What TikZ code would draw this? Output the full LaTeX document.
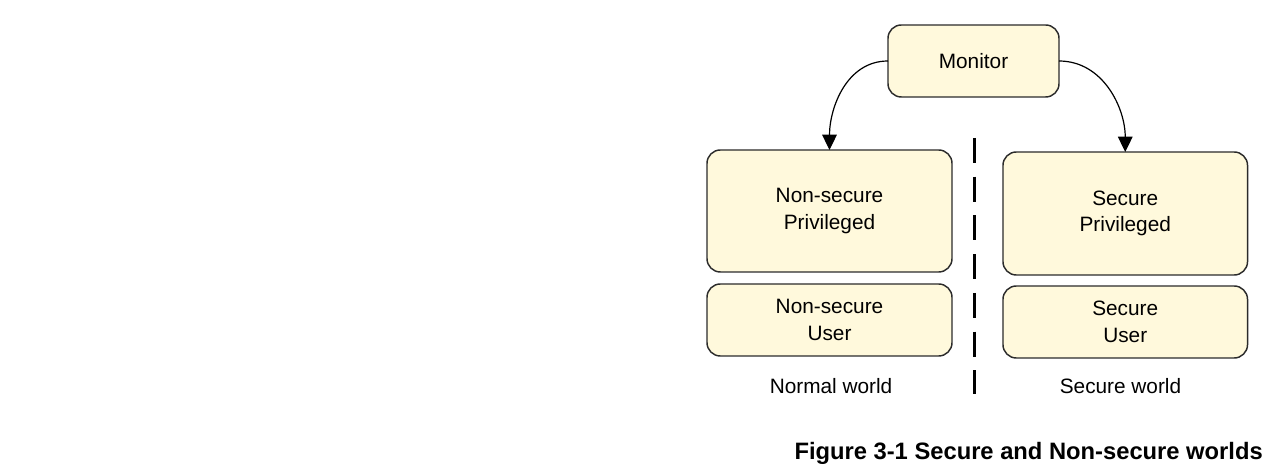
\documentclass[tikz,border=0pt]{standalone}
\usepackage{fontspec}
\setmainfont{Liberation Sans}
\usepackage{tikz}
\usetikzlibrary{arrows.meta}

\definecolor{boxfill}{HTML}{FFF9DC}
\definecolor{boxline}{HTML}{2B2B2B}

\begin{document}
\begin{tikzpicture}[x=0.75pt,y=-0.75pt,
	mode/.style={shape=rectangle,draw=boxline,fill=boxfill,line width=1.1pt,rounded corners=10pt,
		inner sep=0pt,outer sep=0pt,align=center,font=\fontsize{15.6}{19.8}\selectfont},
	world/.style={inner sep=0pt,font=\fontsize{15.6}{19.8}\selectfont},
	arr/.style={-{Triangle[width=11pt,length=11.5pt]},line width=0.9pt}]

		\useasboundingbox (0,0) rectangle (1279,473);

		\node[mode,minimum width=128.25pt,minimum height=54pt] (monitor) at (973.5, 61) {Monitor};
		\node[mode,minimum width=183.75pt,minimum height=91.5pt] (nspriv) at (829.5, 211) {Non-secure\\Privileged};
		\node[mode,minimum width=183.75pt,minimum height=54pt] (nsuser) at (829.5, 320) {Non-secure\\User};
		\node[mode,minimum width=183.4pt,minimum height=92.25pt] (spriv) at (1125.25, 213.5) {Secure\\Privileged};
		\node[mode,minimum width=183.4pt,minimum height=54pt] (suser) at (1125.25, 322) {Secure\\User};
		\node[world] (normal) at (831, 386) {Normal world};
		\node[world] (secure) at (1120.5, 386) {Secure world};
		\node[anchor=east,inner sep=0pt,font=\bfseries\fontsize{17.8}{21}\selectfont] (caption) at (1263, 453) {Figure 3-1 Secure and Non-secure worlds};

		\coordinate (divtop) at (974, 138);
		\coordinate (divbot) at (974, 394);
		\draw[line width=2.25pt,dash pattern=on 18.75pt off 10.3pt] (divtop) -- (divbot);

		\draw[arr] (monitor.west) to[out=180,in=90] (nspriv.north);
		\draw[arr] (monitor.east) to[out=0,in=90] (spriv.north);

\end{tikzpicture}
\end{document}
